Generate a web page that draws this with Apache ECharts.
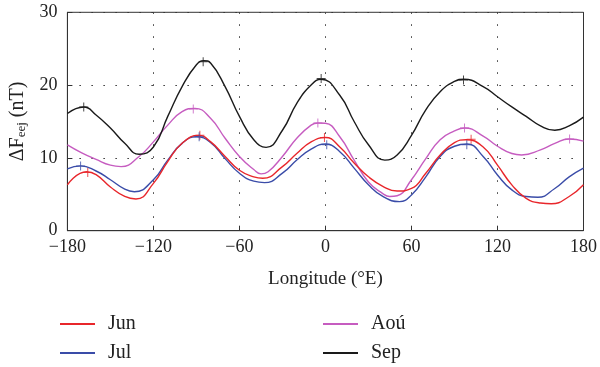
<!DOCTYPE html>
<html>
<head>
<meta charset="utf-8">
<script src="https://cdn.jsdelivr.net/npm/echarts@6/dist/echarts.min.js"></script>
<style>
html,body{margin:0;padding:0;background:#fff;}
#c{width:600px;height:367px;}
</style>
</head>
<body>
<div id="c"></div>
<script>
// ---- data (longitude °E, ΔF_eej nT) ----
const junLon = [-180, -166.7, -160, -150, -140, -132.2, -120, -110, -100, -88.5, -80, -70, -60, -50, -43.7, -30, -20, -10, 0, 10, 20, 30, 40, 50, 60, 70, 80, 90, 98, 110, 120, 130, 140, 150, 157.5, 170, 180];
const junVal = [6.3, 8.1, 7.7, 6.0, 4.7, 4.35, 6.5, 9.5, 12.0, 13.1, 12.2, 10.2, 8.3, 7.4, 7.2, 8.8, 10.6, 12.2, 12.8, 11.5, 9.3, 7.4, 6.1, 5.45, 5.8, 7.9, 10.4, 12.1, 12.5, 11.5, 9.0, 6.3, 4.45, 3.8, 3.7, 4.7, 6.3];
const julLon = [-180, -170.8, -160, -150, -140, -133.3, -120, -110, -100, -90, -80, -70, -60, -50, -42.5, -30, -20, -10, 0, 10, 20, 30, 40, 51.7, 60, 70, 80, 90, 98.8, 110, 120, 130, 140, 148.2, 160, 170, 180];
const julVal = [8.5, 8.9, 8.2, 7.0, 5.7, 5.35, 7.0, 9.7, 12.0, 12.9, 12.1, 9.9, 7.9, 6.8, 6.6, 7.9, 9.7, 11.2, 11.9, 10.85, 8.6, 6.3, 4.7, 4.0, 4.9, 7.4, 10.2, 11.6, 11.9, 10.2, 7.65, 5.6, 4.7, 4.6, 5.8, 7.4, 8.6];
const aouLon = [-180, -170, -160, -150, -142.5, -130, -120, -110, -100, -91, -80, -70, -60, -50, -44.9, -40, -30, -20, -10, -5.3, 0, 10, 20, 30, 40, 44.8, 50, 60, 70, 80, 90, 97.2, 110, 120, 130, 136.8, 150, 160, 170, 180];
const aouVal = [11.8, 10.7, 9.8, 9.0, 8.8, 10.2, 12.2, 14.5, 16.35, 16.8, 15.4, 12.7, 10.2, 8.4, 7.8, 8.1, 10.2, 12.7, 14.5, 14.8, 14.75, 12.9, 9.7, 6.7, 5.1, 4.7, 4.8, 7.0, 9.9, 12.5, 13.7, 14.1, 13.0, 11.6, 10.6, 10.4, 11.1, 12.0, 12.6, 12.3];
const sepLon = [-180, -168.5, -160, -150, -140, -130, -120, -110, -100, -90, -84.8, -80, -70, -60, -50, -41.4, -30, -20, -10, -3, 10, 20, 30, 41.4, 50, 60, 70, 80, 90, 96.5, 110, 120, 130, 140, 150, 160, 170, 180];
const sepVal = [16.1, 17.0, 15.9, 14.1, 12.0, 10.5, 11.5, 15.7, 19.8, 22.8, 23.35, 23.0, 19.8, 15.7, 12.5, 11.45, 13.8, 17.5, 20.0, 20.8, 18.6, 15.0, 11.8, 9.7, 10.4, 13.1, 16.6, 19.1, 20.5, 20.8, 19.8, 18.4, 17.0, 15.7, 14.4, 13.8, 14.4, 15.6];

// '+' markers
const junMarkLon = [-165.8, -87.6, -0.7, 101.6];
const junMarkVal = [8.0, 13.1, 12.8, 12.55];
const julMarkLon = [-170.8, -88.1, 0.9, 98.6];
const julMarkVal = [8.9, 12.9, 11.8, 11.8];
const aouMarkLon = [-92.2, -5.3, 97, 170.3];
const aouMarkVal = [16.7, 14.8, 14.1, 12.6];
const sepMarkLon = [-168.6, -85.3, -3.0, 96.3];
const sepMarkVal = [17.0, 23.2, 20.9, 20.7];

const seriesNames = ['Jun', 'Jul', 'Aoú', 'Sep'];
const xTicks = [-180, -120, -60, 0, 60, 120, 180];
const yTicks = [0, 10, 20, 30];

const colors = ['#e8262b', '#3a4ca8', '#c65cc0', '#1a1a1a'];
const FONT = 'Liberation Serif';
const PLUS = 'path://M4,0 L5,0 L5,4 L9,4 L9,5 L5,5 L5,9 L4,9 L4,5 L0,5 L0,4 L4,4 Z';

const zip = (a, b) => a.map((v, i) => [v, b[i]]);
const lines = [[junLon, junVal], [julLon, julVal], [aouLon, aouVal], [sepLon, sepVal]];
const marks = [[junMarkLon, junMarkVal], [julMarkLon, julMarkVal], [aouMarkLon, aouMarkVal], [sepMarkLon, sepMarkVal]];

const series = [];
lines.forEach((l, i) => {
  series.push({
    name: seriesNames[i], type: 'line', data: zip(l[0], l[1]),
    smooth: 0.5, showSymbol: false, symbol: 'none',
    lineStyle: { color: colors[i], width: 1.4 }, itemStyle: { color: colors[i] },
    z: 2 + (i === 0 ? 1 : 0)
  });
});
marks.forEach((m, i) => {
  series.push({
    name: seriesNames[i] + ' +', type: 'scatter', data: zip(m[0], m[1]),
    symbol: PLUS, symbolSize: 9, itemStyle: { color: colors[i] }, z: 4
  });
});

const legendPos = [[60, 314], [60, 343], [323, 314], [323, 343]];
const legends = seriesNames.map((n, i) => ({
  data: [n], orient: 'horizontal', left: legendPos[i][0], top: legendPos[i][1], padding: 0,
  icon: 'rect', itemWidth: 35, itemHeight: 2,
  textStyle: { fontFamily: FONT, fontSize: 20, color: '#222', padding: [0, 0, 0, 8] }
}));

const chart = echarts.init(document.getElementById('c'), null, { renderer: 'canvas' });
const dotted = { color: '#333', width: 1, type: [1.5, 10.5] };
chart.setOption({
  animation: false,
  backgroundColor: '#fff',
  grid: { left: 62.7, right: 15.3, top: 12.3, bottom: 136.3, show: true, borderColor: '#333', borderWidth: 1 },
  xAxis: {
    type: 'value', min: -180, max: 180, interval: 60,
    name: 'Longitude (°E)', nameLocation: 'middle', nameGap: 39,
    nameTextStyle: { fontFamily: FONT, fontSize: 19, color: '#222' },
    axisLine: { show: true, onZero: false, lineStyle: { color: '#333' } },
    axisTick: { show: true, inside: true, length: 5, lineStyle: { color: '#333' } },
    axisLabel: { fontFamily: FONT, fontSize: 18, color: '#222', margin: 8,
      formatter: v => xTicks.includes(v) ? String(v).replace('-', '\u2212') : '' },
    splitLine: { show: true, lineStyle: dotted }
  },
  yAxis: {
    type: 'value', min: 0, max: 30, interval: 10,
    name: '{a|ΔF}{b|eej}{a| (nT)}', nameLocation: 'middle', nameGap: 36,
    nameTextStyle: { fontFamily: FONT, fontSize: 20, color: '#222',
      rich: {
        a: { fontFamily: FONT, fontSize: 20, color: '#222' },
        b: { fontFamily: FONT, fontSize: 13, color: '#222', verticalAlign: 'bottom', padding: [8, 0, 0, 0] }
      } },
    axisLine: { show: true, onZero: false, lineStyle: { color: '#333' } },
    axisTick: { show: true, inside: true, length: 5, lineStyle: { color: '#333' } },
    axisLabel: { fontFamily: FONT, fontSize: 18, color: '#222', margin: 10,
      formatter: v => yTicks.includes(v) ? String(v) : '' },
    splitLine: { show: true, lineStyle: dotted }
  },
  legend: legends,
  series: series
});
</script>
</body>
</html>
